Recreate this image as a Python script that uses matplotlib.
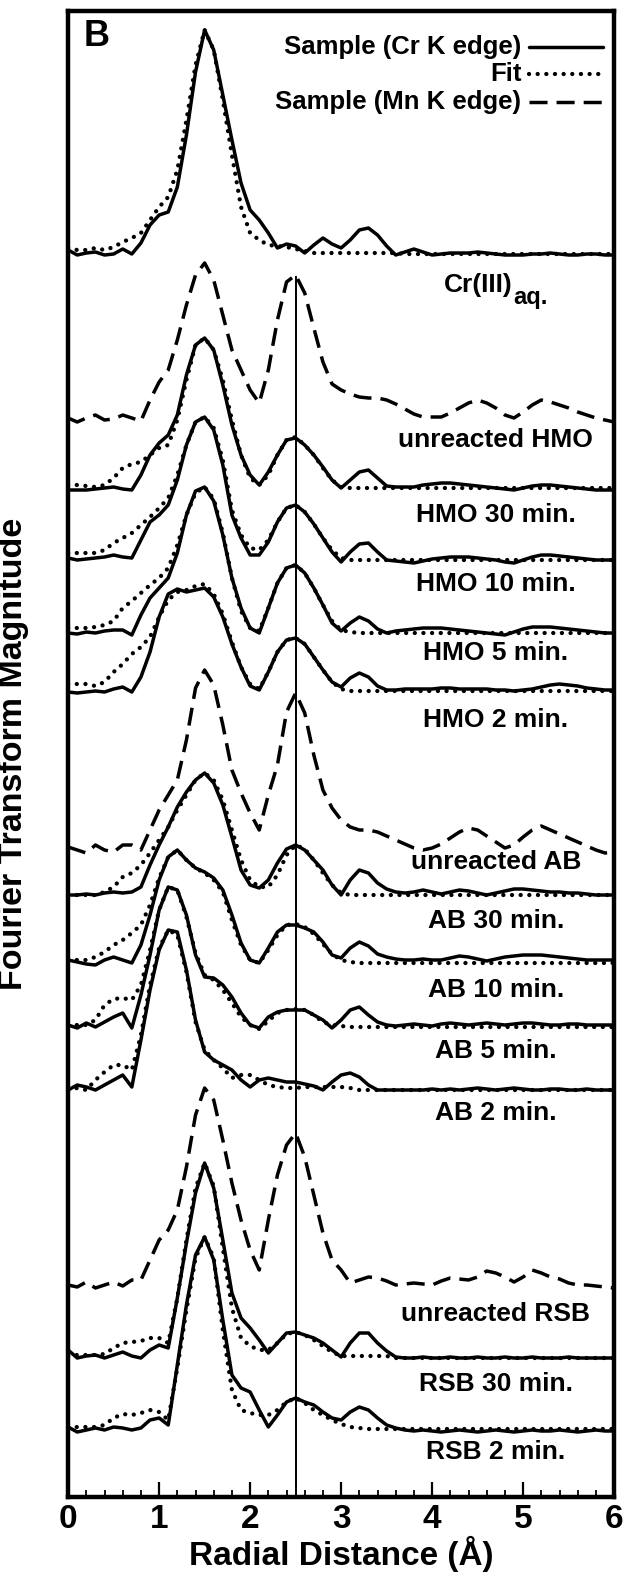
import numpy as np
import matplotlib.pyplot as plt
from matplotlib.lines import Line2D

plt.rcParams['font.family'] = ['Liberation Sans', 'DejaVu Sans']
plt.rcParams['font.weight'] = 'bold'

# radial distance grid (A), 0.1 step
r = np.linspace(0, 6, 61)

# FT magnitudes (arbitrary units, above each trace's own baseline)
cr_aq = [5, 0, 2, 3, 0, 1, 6, 1, 12, 30, 40, 43, 68, 120, 183, 225, 205, 160, 115, 72, 45,
         35, 22, 7, 11, 9, 2, 10, 17, 11, 7, 15, 25, 27, 20, 9, 0, 3, 6, 3, 0,
         1, 2, 2, 2, 3, 2, 1, 0, 0, 0, 1, 1, 2, 1, 0, 0, 1, 1, 0, 0]
cr_aq_fit = [7, 5, 5, 7, 5, 8, 13, 17, 22, 35, 48, 58, 85, 135, 190, 225, 205, 155, 100, 48, 22,
             15, 10, 9, 8, 6, 4, 2, 2, 2, 2, 2, 2, 2, 2, 2, 2, 1, 1, 1, 1,
             1, 1, 1, 1, 1, 1, 1, 1, 1, 1, 1, 1, 1, 1, 1, 1, 1, 1, 1, 1]

hmo_mn = [2, -2, 2, 5, 0, 1, 5, 2, -1, 20, 38, 50, 80, 115, 145, 157, 140, 105, 70, 50, 30,
          17, 50, 100, 138, 145, 127, 92, 58, 36, 30, 26, 23, 22, 22, 20, 16, 11, 6, 3, 3,
          3, 7, 12, 17, 20, 17, 12, 5, 2, 8, 15, 20, 18, 15, 12, 8, 5, 2, 0, -2]

hmo_30 = [0, 0, 0, 1, 2, 3, 1, 0, 15, 35, 47, 55, 75, 115, 145, 152, 140, 105, 65, 35, 15,
          5, 18, 35, 50, 52, 45, 35, 23, 10, 2, 10, 18, 20, 12, 4, 3, 3, 3, 5, 6,
          7, 7, 6, 5, 4, 3, 2, 1, 0, 2, 4, 5, 5, 4, 3, 2, 1, 0, 0, 0]
hmo_30_fit = [5, 5, 4, 3, 5, 12, 22, 26, 28, 35, 42, 45, 70, 110, 145, 152, 140, 110, 70, 35, 12,
              5, 15, 35, 50, 53, 45, 35, 22, 10, 3, 2, 2, 2, 2, 2, 2, 2, 2, 2, 2,
              2, 2, 2, 2, 2, 2, 2, 2, 2, 2, 2, 2, 2, 2, 2, 2, 2, 2, 2, 2]

hmo_10 = [2, 0, 1, 2, 3, 5, 3, 2, 20, 38, 45, 55, 80, 115, 138, 143, 130, 95, 45, 22, 5,
          5, 18, 38, 52, 55, 48, 36, 22, 8, -2, 8, 16, 17, 8, 0, -1, -2, -3, -1, 1,
          2, 3, 3, 3, 2, 1, 0, -2, -3, 0, 3, 5, 5, 4, 3, 2, 1, 0, 0, 0]
hmo_10_fit = [7, 7, 7, 7, 10, 17, 22, 27, 35, 43, 52, 62, 85, 115, 138, 143, 132, 100, 50, 25, 12,
              10, 20, 38, 52, 55, 48, 36, 22, 10, 2, 0, 0, 0, 0, 0, 0, 0, 0, 0, 0,
              0, 0, 0, 0, 0, 0, 0, 0, 0, 0, 0, 0, 0, 0, 0, 0, 0, 0, 0, 0]

hmo_5 = [0, -1, 1, 0, 2, 3, 3, -2, 18, 35, 45, 55, 80, 118, 142, 146, 132, 98, 55, 25, 5,
         0, 25, 50, 65, 68, 60, 45, 28, 10, 2, 10, 16, 12, 4, 0, 2, 3, 4, 5, 5,
         5, 4, 3, 2, 1, 0, -1, -2, 1, 4, 6, 6, 6, 5, 4, 3, 2, 1, 0, 0]
hmo_5_fit = [5, 5, 5, 6, 8, 12, 25, 32, 40, 48, 55, 65, 88, 118, 140, 146, 134, 100, 55, 22, 5,
             2, 25, 50, 65, 68, 60, 45, 28, 12, 3, 1, 0, 0, 0, 0, 0, 0, 0, 0, 0,
             0, 0, 0, 0, 0, 0, 0, 0, 0, 0, 0, 0, 0, 0, 0, 0, 0, 0, 0, 0]

hmo_2 = [0, -1, 0, 1, 0, 3, 5, 0, 15, 40, 75, 98, 103, 100, 102, 104, 95, 75, 48, 25, 6,
         2, 20, 40, 52, 54, 48, 35, 22, 10, 5, 14, 19, 15, 6, 2, 2, 3, 3, 3, 3,
         4, 4, 3, 3, 3, 3, 2, 2, 1, 2, 3, 5, 7, 8, 7, 6, 4, 3, 2, 2]
hmo_2_fit = [8, 8, 8, 6, 10, 20, 28, 38, 45, 55, 75, 92, 100, 102, 106, 108, 98, 78, 50, 25, 8,
             3, 20, 40, 52, 54, 48, 35, 22, 10, 3, 1, 1, 1, 1, 1, 1, 1, 1, 1, 1,
             1, 1, 1, 1, 1, 1, 1, 1, 1, 1, 1, 1, 1, 1, 1, 1, 1, 1, 1, 1]

ab_mn = [3, 0, -3, 5, 0, -2, 5, 5, 0, 20, 40, 55, 70, 110, 162, 180, 165, 125, 80, 57, 37,
         20, 55, 85, 138, 157, 137, 95, 60, 42, 30, 23, 20, 20, 18, 14, 10, 6, 2, 0, 2,
         6, 12, 18, 22, 20, 14, 8, 2, 5, 13, 20, 24, 20, 16, 12, 8, 4, 0, -3, -2]

ab_30 = [0, 0, 1, 0, 2, 3, 2, 3, 8, 30, 50, 68, 88, 103, 115, 122, 112, 90, 58, 25, 10,
         7, 15, 32, 46, 50, 45, 35, 25, 10, 0, 15, 25, 22, 12, 6, 3, 2, 3, 5, 3,
         1, 3, 5, 4, 2, 0, 2, 4, 6, 6, 5, 4, 3, 3, 2, 2, 1, 0, 0, 0]
ab_30_fit = [0, 0, 0, 0, 3, 8, 18, 22, 30, 42, 55, 68, 85, 100, 115, 122, 115, 95, 65, 35, 15,
             8, 8, 20, 40, 50, 46, 35, 22, 10, 2, 0, 0, 0, 0, 0, 0, 0, 0, 0, 0,
             0, 0, 0, 0, 0, 0, 0, 0, 0, 0, 0, 0, 0, 0, 0, 0, 0, 0, 0, 0]

ab_10 = [0, -2, -4, -5, 0, 3, 0, -3, 15, 45, 80, 103, 110, 100, 92, 88, 82, 70, 45, 17, 0,
         -3, 12, 28, 35, 35, 32, 28, 18, 5, 2, 12, 18, 14, 6, 3, 1, 0, 0, 1, 0,
         0, 2, 4, 3, 1, -1, 1, 3, 4, 5, 5, 5, 4, 3, 2, 1, 0, 0, 0, 0]
ab_10_fit = [0, 0, 0, 3, 8, 15, 20, 27, 35, 55, 82, 103, 110, 100, 92, 87, 80, 68, 40, 15, 0,
             -3, 10, 25, 35, 36, 33, 26, 16, 6, 0, -2, -3, -3, -3, -3, -3, -3, -3, -3, -3,
             -3, -3, -3, -3, -3, -3, -3, -3, -3, -3, -3, -3, -3, -3, -3, -3, -3, -3, -3, -3]

ab_5 = [0, -3, 2, -2, 3, 8, 12, -3, 30, 70, 115, 138, 135, 110, 70, 48, 47, 40, 28, 12, 0,
        -3, 8, 13, 15, 15, 15, 10, 5, -3, 5, 15, 18, 10, 3, 0, -1, 0, 1, 0, -1,
        1, 2, 1, 0, 1, 2, 1, 0, 1, 2, 2, 1, 0, 0, 1, 1, 0, 0, 0, 0]
ab_5_fit = [0, 0, 0, 5, 20, 26, 27, 25, 40, 75, 115, 138, 135, 108, 72, 50, 45, 35, 22, 8, 0,
            -4, 4, 12, 15, 16, 15, 10, 3, 0, -1, -2, -2, -2, -2, -2, -2, -2, -2, -2, -2,
            -2, -2, -2, -2, -2, -2, -2, -2, -2, -2, -2, -2, -2, -2, -2, -2, -2, -2, -2, -2]

ab_2 = [0, 5, 3, 0, 5, 10, 15, 3, 50, 100, 140, 160, 158, 120, 70, 38, 30, 25, 20, 10, 3,
        10, 12, 10, 8, 8, 6, 4, 0, 8, 15, 17, 13, 5, 0, 0, 0, 0, 0, 0, 1,
        0, 1, 0, 1, 2, 1, 0, 1, 2, 1, 0, 0, 1, 1, 0, 0, 1, 0, 0, 0]
ab_2_fit = [0, 2, 0, 10, 18, 25, 25, 20, 55, 105, 142, 160, 155, 118, 68, 40, 30, 22, 12, 15, 15,
            10, 5, 3, 2, 2, 3, 3, 3, 3, 3, 2, 0, 0, 0, 0, 0, 0, 0, 0, 0,
            0, 0, 0, 0, 0, 0, 0, 0, 0, 0, 0, 0, 0, 0, 0, 0, 0, 0, 0, 0]

rsb_mn = [0, -2, 3, -3, 0, 3, -1, 5, 5, 25, 45, 55, 75, 118, 170, 197, 185, 145, 102, 65, 35,
          15, 65, 110, 140, 152, 128, 90, 52, 25, 15, 2, 5, 8, 7, 4, 0, 1, 2, 1, 0,
          4, 7, 6, 5, 8, 14, 12, 8, 3, 8, 15, 12, 8, 6, 2, 0, 0, -1, -2, -3]

rsb_30 = [8, 0, 2, 3, 0, 3, 6, 2, 0, 8, 13, 10, 60, 115, 165, 195, 170, 118, 65, 40, 30,
          18, 5, 15, 25, 26, 23, 20, 15, 8, 1, 15, 25, 25, 15, 7, 1, 0, 0, 1, 0,
          0, 1, 0, 0, 1, 0, 0, 1, 0, 0, 1, 0, 0, 0, 1, 0, 0, 0, 0, 0]
rsb_30_fit = [2, 3, 3, 3, 4, 10, 15, 16, 17, 20, 20, 15, 60, 118, 170, 195, 172, 110, 50, 20, 12,
              8, 8, 15, 24, 26, 23, 18, 12, 6, 2, 2, 2, 2, 2, 2, 0, 0, 0, 0, 0,
              0, 0, 0, 0, 0, 0, 0, 0, 0, 0, 0, 0, 0, 0, 0, 0, 0, 0, 0, 0]

rsb_2 = [3, -2, 0, 2, 0, 3, 2, 0, 2, 10, 12, 5, 65, 125, 175, 193, 170, 110, 55, 42, 38,
         20, 3, 15, 28, 32, 28, 25, 18, 12, 10, 18, 23, 20, 12, 5, 2, 0, -1, 0, -1,
         -2, -1, 0, -1, -2, -1, 0, -1, -2, -1, 0, -1, -1, 0, -1, -2, -1, 0, -1, -1]
rsb_2_fit = [2, 3, 3, 3, 5, 12, 16, 15, 17, 20, 18, 10, 62, 120, 172, 193, 172, 100, 40, 20, 17,
             15, 15, 20, 28, 32, 27, 20, 15, 10, 6, 3, 2, 1, 1, 1, 1, 1, 1, 1, 1,
             1, 1, 1, 1, 1, 1, 1, 1, 1, 1, 1, 1, 1, 1, 1, 1, 1, 1, 1, 1]

# trace name, sample, fit (None for Mn K edge), vertical offset, label height
traces = [
    (None, cr_aq, cr_aq_fit, 1237, 1205),
    ('unreacted HMO', hmo_mn, None, 1072, 1052),
    ('HMO 30 min.', hmo_30, hmo_30_fit, 1002, 977),
    ('HMO 10 min.', hmo_10, hmo_10_fit, 932, 908),
    ('HMO 5 min.', hmo_5, hmo_5_fit, 859, 839),
    ('HMO 2 min.', hmo_2, hmo_2_fit, 800, 772),
    ('unreacted AB', ab_mn, None, 642, 630),
    ('AB 30 min.', ab_30, ab_30_fit, 597, 571),
    ('AB 10 min.', ab_10, ab_10_fit, 532, 502),
    ('AB 5 min.', ab_5, ab_5_fit, 467, 441),
    ('AB 2 min.', ab_2, ab_2_fit, 402, 379),
    ('unreacted RSB', rsb_mn, None, 207, 178),
    ('RSB 30 min.', rsb_30, rsb_30_fit, 134, 108),
    ('RSB 2 min.', rsb_2, rsb_2_fit, 62, 40),
]

solid_kw = dict(color='black', lw=2.5, solid_joinstyle='round', solid_capstyle='round')
dot_kw = dict(color='black', lw=3.1, ls=(0, (0.01, 2.0)), dash_capstyle='round')
dash_kw = dict(color='black', lw=2.5, ls=(0, (5.2, 2.6)), dash_capstyle='butt')

fig = plt.figure(figsize=(6.25, 15.79), dpi=100)
ax = fig.add_axes([0.109, 0.05193, 0.8736, 0.94110])

for name, sample, fit, off, ly in traces:
    if fit is None:
        ax.plot(r, off + np.array(sample), **dash_kw)
    else:
        ax.plot(r, off + np.array(fit), **dot_kw)
        ax.plot(r, off + np.array(sample), **solid_kw)
    if name is not None:
        ax.text(4.70, ly, name, ha='center', va='center', fontsize=19, fontweight='bold')

# Cr(III) label with its "aq." subscript set a little lower
ax.text(4.89, 1207, 'Cr(III)', ha='right', va='center', fontsize=19, fontweight='bold')
ax.text(4.89, 1195, 'aq.', ha='left', va='center', fontsize=17, fontweight='bold')

# reference line at 2.5 A
ax.vlines(2.5, -5, 1216, color='black', lw=1.4)

ax.set_xlim(0, 6)
ax.set_ylim(-5, 1481)
ax.set_yticks([])
ax.set_xticks(range(7))
ax.set_xticks(np.arange(0, 6.01, 0.2), minor=True)
ax.tick_params(axis='x', which='major', direction='in', length=11, width=1.6,
               labelsize=24, pad=5)
ax.tick_params(axis='x', which='minor', direction='in', length=5, width=1.3)
for lab in ax.get_xticklabels():
    lab.set_fontweight('bold')
for sp in ax.spines.values():
    sp.set_linewidth(3.2)

ax.set_xlabel('Radial Distance (Å)', fontsize=24, fontweight='bold', labelpad=1)
ax.set_ylabel('Fourier Transform Magnitude', fontsize=24.5, fontweight='bold')
ax.yaxis.set_label_coords(-0.072, 0.5)

ax.text(0.31, 0.983, 'B', transform=ax.get_xaxis_transform(), fontsize=26,
        fontweight='bold', ha='center', va='center')

# legend drawn by hand: text right-aligned, sample line to the right
leg_rows = [('Sample (Cr K edge)', solid_kw, 0.976),
            ('Fit', dot_kw, 0.9577),
            ('Sample (Mn K edge)', dash_kw, 0.9390)]
for txt, kw, yy in leg_rows:
    ax.text(0.83, yy, txt, transform=ax.transAxes, ha='right', va='center',
            fontsize=18.5, fontweight='bold')
    ax.add_line(Line2D([0.845, 0.98], [yy, yy], transform=ax.transAxes, **kw))

fig.savefig('out.png', dpi=100)
